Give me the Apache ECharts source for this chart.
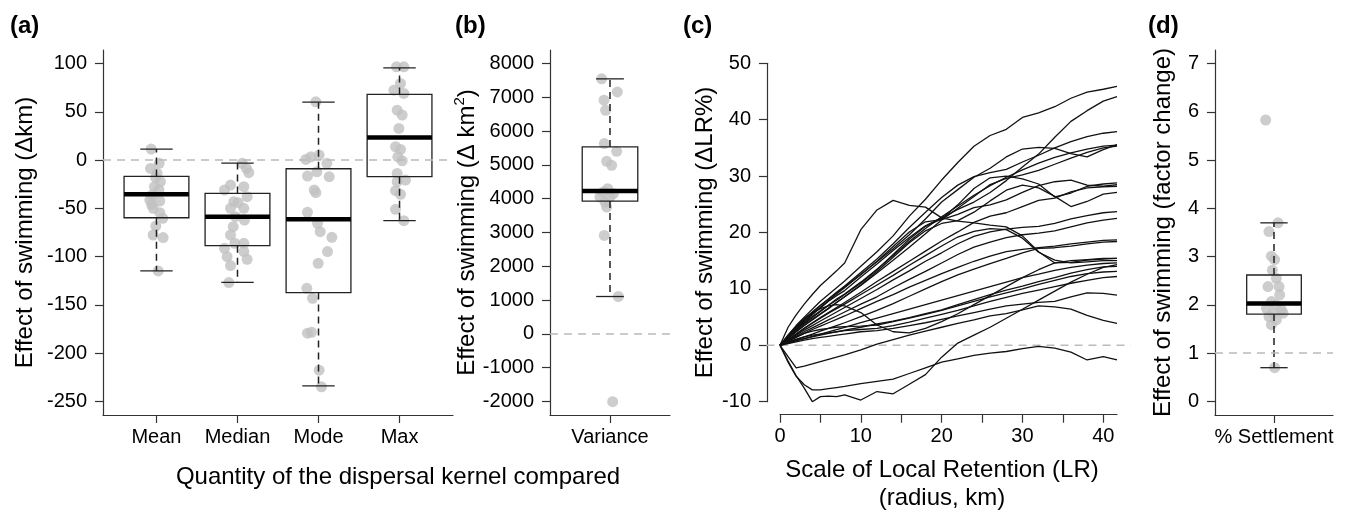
<!DOCTYPE html>
<html lang="en">
<head>
<meta charset="UTF-8">
<title>Effect of swimming</title>
<script src="https://cdn.jsdelivr.net/npm/echarts@6/dist/echarts.min.js"></script>
<style>
    html, body { margin: 0; padding: 0; background: #fff; }
    #chart { width: 1351px; height: 516px; }
</style>
</head>
<body>
<div id="chart"></div>
<script>
// ---------- (a) dispersal kernel quantities ----------
var kernelNames = ['Mean', 'Median', 'Mode', 'Max'];
// [position, lower whisker, Q1, median, Q3, upper whisker]
var kernelBoxes = [
    [1, -114.8, -59.7, -35.5, -16.9, 11.4],
    [2, -126.6, -88.6, -58.6, -34.5, -3.1],
    [3, -233.8, -137.2, -61.4, -9.0, 60.0],
    [4, -62.8, -17.2, 23.4, 68.0, 95.5]
];
// points: [jitter offset from the box centre, value]
var meanPts = [[-0.066, 11.4], [0.033, -3.4], [-0.074, -8.6], [0.008, -13.8], [-0.01, -18], [0.049, -22.4],
    [-0.025, -27.6], [0.03, -31], [-0.053, -36.2], [-0.082, -41.4], [0.041, -42.4], [-0.06, -46],
    [-0.041, -50], [0.041, -54.5], [0.078, -60.3], [-0.008, -68.3], [-0.041, -77.6], [0.082, -80.3], [0.021, -114.8]];
var medianPts = [[0.058, -3.4], [0.111, -8.6], [0.14, -13.1], [-0.086, -25.9], [-0.16, -31], [0.078, -27.6],
    [0.119, -37.9], [-0.045, -43.1], [0.008, -44.1], [-0.086, -50], [0.078, -50], [-0.025, -58.6],
    [0.086, -62.1], [-0.053, -69], [-0.086, -77.6], [-0.033, -86.2], [0.078, -86.2], [-0.16, -91.4],
    [0.078, -94.8], [-0.128, -100], [0.119, -102.8], [-0.086, -109.3], [-0.107, -126.9]];
var modePts = [[-0.033, 60.3], [-0.156, 0.7], [-0.095, 3.4], [0.008, 5.2], [0.103, -3.4], [-0.021, -12.1],
    [-0.136, -16.6], [0.132, -17.2], [-0.053, -31], [-0.033, -33.8], [-0.136, -54.1], [-0.012, -65.5],
    [0.021, -74.1], [0.165, -80], [0.111, -94.8], [-0.004, -106.9], [-0.144, -132.8], [-0.074, -143.1],
    [-0.136, -179.3], [-0.086, -178.3], [0.008, -217.6], [0.037, -234.8]];
var maxPts = [[-0.037, 96.6], [0.053, 96.6], [0.012, 79.3], [-0.07, 72.4], [0.053, 69], [-0.029, 51.7],
    [0.033, 46.6], [-0.008, 32.8], [-0.049, 13.8], [0.012, 11], [-0.021, 3.4], [0.033, -0.7],
    [-0.029, -13.8], [0.074, -20.7], [-0.029, -22.4], [-0.049, -31.7], [0.012, -35.5], [-0.049, -51], [0.053, -62.8]];
var kernelTicks = [-250, -200, -150, -100, -50, 0, 50, 100];

// ---------- (b) variance ----------
var varianceBox = [[1, 1106, 3931, 4227, 5531, 7546]];
var variancePts = [[-0.075, 7546], [0.066, 7160], [-0.054, 6914], [-0.039, 6617], [-0.051, 5630], [0.06, 5402],
    [-0.03, 5106], [0.015, 4988], [-0.021, 4296], [-0.06, 4197], [0.03, 4148], [-0.09, 4049], [0, 4049],
    [-0.045, 3901], [-0.03, 3753], [-0.051, 2914], [0.075, 1106], [0.024, -2005]];
var varianceTicks = [-2000, -1000, 0, 1000, 2000, 3000, 4000, 5000, 6000, 7000, 8000];

// ---------- (c) local retention curves ----------
var lrKm = [0, 1, 2, 3, 4, 5, 6, 7, 8, 10, 12, 14, 16, 18, 20, 22, 24, 26, 28, 30, 32, 34, 36, 38, 40, 41.7];
var lrCurves = [
    [0, 1.8, 3.5, 5.0, 6.4, 7.8, 9.0, 10.2, 11.4, 14.0, 16.6, 19.4, 22.9, 25.9, 29.3, 32.4, 35.3, 37.2, 38.3, 40.4, 41.2, 42.3, 43.8, 44.9, 45.4, 45.9],
    [0, 1.5, 3.0, 4.3, 5.6, 6.6, 7.8, 8.8, 9.7, 12.1, 14.4, 16.8, 19.1, 21.2, 22.6, 24.1, 25.4, 27.1, 29.2, 31.6, 33.9, 36.9, 39.7, 41.6, 43.3, 44.1],
    [0, 1.6, 3.2, 4.6, 5.9, 7.1, 8.2, 9.4, 10.5, 12.9, 15.3, 18.0, 20.9, 23.6, 26.2, 28.4, 29.9, 30.6, 31.2, 32.5, 33.7, 35.0, 36.1, 37.0, 37.6, 37.9],
    [0, 1.4, 2.8, 4.1, 5.4, 6.7, 7.9, 9.1, 10.2, 12.6, 14.8, 17.1, 19.6, 22.4, 25.4, 27.6, 29.8, 31.4, 33.4, 34.8, 35.1, 34.9, 34.0, 33.4, 34.7, 35.6],
    [0, 1.3, 2.6, 3.8, 4.9, 6.0, 7.1, 8.2, 9.1, 11.2, 13.5, 15.9, 18.4, 20.7, 22.8, 24.7, 26.6, 28.3, 29.8, 31.1, 32.3, 33.3, 34.1, 34.8, 35.3, 35.5],
    [0, 1.2, 2.4, 3.5, 4.6, 5.6, 6.6, 7.6, 8.6, 10.6, 12.8, 15.1, 17.4, 19.8, 22.2, 24.3, 26.4, 28.5, 29.6, 30.2, 31.0, 32.1, 33.2, 34.2, 35.0, 35.3],
    [0, 1.5, 2.8, 4.0, 5.1, 6.1, 7.1, 8.0, 9.0, 11.0, 13.4, 16.1, 18.8, 21.1, 22.4, 24.9, 27.8, 29.7, 30.0, 29.5, 28.6, 26.3, 27.0, 28.2, 28.6, 28.8],
    [0, 1.6, 3.1, 4.5, 5.8, 7.0, 8.2, 9.3, 10.4, 12.5, 14.9, 17.5, 20.1, 21.9, 22.3, 23.2, 24.4, 24.9, 25.8, 27.1, 28.3, 29.0, 29.3, 28.4, 28.2, 28.5],
    [0, 1.0, 2.0, 3.0, 4.0, 4.9, 5.8, 6.7, 7.6, 9.4, 11.3, 13.1, 14.9, 16.7, 18.5, 20.1, 21.8, 22.9, 23.5, 24.6, 25.7, 26.1, 27.2, 27.9, 28.1, 28.2],
    [0, 1.2, 2.4, 3.5, 4.5, 5.5, 6.5, 7.6, 8.6, 10.7, 13.1, 15.6, 18.2, 20.3, 21.6, 22.1, 23.6, 25.6, 27.5, 28.4, 27.9, 26.4, 24.6, 25.5, 26.8, 27.1],
    [0, 3.2, 5.4, 7.3, 9.0, 10.6, 11.9, 13.2, 14.6, 20.5, 24.0, 25.7, 24.8, 24.5, 22.6, 22.0, 21.7, 21.3, 21.0, 19.4, 16.6, 14.6, 14.7, 15.1, 15.3, 15.4],
    [0, 0.9, 1.8, 2.7, 3.5, 4.3, 5.1, 5.9, 6.7, 8.3, 9.9, 11.6, 13.2, 14.9, 16.4, 18.0, 19.3, 20.1, 20.6, 20.9, 21.1, 21.6, 22.4, 23.0, 23.5, 23.7],
    [0, 0.8, 1.6, 2.4, 3.1, 3.8, 4.5, 5.2, 5.9, 7.3, 8.6, 10.2, 11.7, 13.1, 14.6, 16.1, 17.4, 18.3, 19.1, 19.6, 19.9, 20.3, 21.0, 21.7, 22.2, 22.5],
    [0, 0.7, 1.4, 2.1, 2.8, 3.4, 4.0, 4.6, 5.2, 6.5, 7.8, 9.0, 10.3, 11.5, 12.7, 13.8, 14.9, 15.8, 16.6, 17.0, 17.3, 17.6, 18.0, 18.3, 18.6, 18.7],
    [0, 0.5, 1.0, 1.5, 2.0, 2.5, 3.0, 3.5, 4.0, 5.1, 6.2, 7.4, 8.7, 10.0, 11.3, 12.5, 13.5, 14.5, 15.4, 16.4, 17.2, 17.3, 17.6, 18.0, 18.3, 18.4],
    [0, 1.0, 2.0, 3.0, 3.9, 4.8, 5.7, 6.5, 7.3, 9.0, 10.7, 12.4, 14.2, 15.9, 17.6, 19.2, 20.2, 20.7, 20.5, 19.0, 16.5, 15.1, 14.6, 14.8, 15.0, 15.0],
    [0, 0.4, 0.8, 1.2, 1.6, 2.0, 2.4, 2.8, 3.2, 4.0, 4.8, 5.6, 6.4, 7.2, 8.0, 8.8, 9.6, 10.4, 11.2, 12.0, 12.6, 13.3, 13.8, 14.2, 14.5, 14.6],
    [0, -2.8, -5.4, -7.6, -10.0, -9.1, -9.0, -9.1, -8.8, -9.7, -8.2, -8.6, -6.9, -5.2, -2.1, 0.4, 1.8, 3.2, 4.8, 6.4, 8.0, 9.6, 11.2, 12.6, 13.8, 14.3],
    [0, 0.5, 0.9, 1.2, 1.5, 1.8, 2.1, 2.4, 2.7, 3.2, 3.8, 4.3, 4.9, 5.6, 6.3, 7.2, 8.1, 9.0, 9.8, 10.5, 11.3, 12.0, 12.8, 13.4, 13.9, 14.0],
    [0, 0.8, 1.5, 2.1, 2.5, 2.8, 3.0, 3.2, 3.3, 3.4, 3.6, 4.2, 4.8, 5.5, 6.2, 7.0, 7.8, 8.6, 9.3, 10.0, 10.8, 11.5, 12.2, 12.7, 13.0, 13.1],
    [0, 0.6, 1.1, 1.5, 1.8, 2.0, 2.2, 2.4, 2.6, 2.8, 3.0, 3.5, 4.1, 4.8, 5.5, 6.2, 7.0, 7.8, 8.5, 9.2, 9.8, 10.4, 11.0, 11.5, 12.0, 12.2],
    [0, 0.3, 0.6, 0.9, 1.2, 1.4, 1.6, 1.8, 2.0, 2.4, 2.6, 3.0, 3.5, 4.0, 4.6, 5.2, 5.8, 6.4, 7.0, 7.3, 7.6, 7.8, 8.6, 9.3, 9.2, 8.9],
    [0, -2.0, -4.0, -3.7, -3.3, -2.9, -2.5, -2.1, -1.7, -0.8, 0.2, 1.0, 1.8, 2.5, 3.2, 3.9, 4.5, 5.2, 5.6, 6.3, 7.0, 6.8, 6.4, 5.3, 4.4, 3.9],
    [0, -3.0, -5.5, -7.0, -7.9, -7.9, -7.7, -7.5, -7.3, -6.8, -6.4, -6.0, -5.0, -4.0, -3.0, -2.4, -1.8, -1.4, -1.1, -0.6, -0.2, -0.5, -1.2, -2.6, -2.0, -2.6],
    [0, 1.8, 3.4, 4.8, 5.8, 6.5, 7.0, 7.2, 7.0, 5.8, 3.6, 2.4, 2.2, 3.0, 4.2, 5.6, 7.2, 8.8, 10.4, 12.0, 13.4, 14.6, 15.0, 15.2, 15.4, 15.4]
];
var lrTickKm = [0, 5, 10, 15, 20, 25, 30, 35, 40];
var lrLabelKm = [0, 10, 20, 30, 40];

// ---------- (d) settlement ----------
var settleBox = [[1, 0.70, 1.81, 2.03, 2.62, 3.70]];
var settlePts = [[-0.076, 5.83], [0.037, 3.70], [-0.046, 3.52], [-0.024, 3.01], [0.006, 2.94], [-0.015, 2.72],
    [0.021, 2.55], [-0.055, 2.38], [0.046, 2.38], [0.052, 2.21], [-0.024, 2.07], [0.021, 2.0], [-0.07, 1.93],
    [0.067, 1.90], [-0.009, 1.83], [0.083, 1.83], [-0.046, 1.76], [0.021, 1.69], [-0.024, 1.59], [0.006, 0.70]];
var settleTicks = [0, 1, 2, 3, 4, 5, 6, 7];

var FONT = '"Liberation Sans", Arial, sans-serif';
var AXIS_COLOR = '#333';
var POINT_COLOR = '#c0c0c0';

// box drawn through the axis scales; halfW in axis units
function boxRenderer(halfW) {
    return function (params, api) {
        var x = api.value(0);
        var lo = api.coord([x, api.value(1)]);
        var q1 = api.coord([x, api.value(2)]);
        var md = api.coord([x, api.value(3)]);
        var q3 = api.coord([x, api.value(4)]);
        var hi = api.coord([x, api.value(5)]);
        var left = api.coord([x - halfW, 0])[0];
        var right = api.coord([x + halfW, 0])[0];
        var capL = api.coord([x - halfW / 2, 0])[0];
        var capR = api.coord([x + halfW / 2, 0])[0];
        var cx = lo[0];
        var dash = {stroke: '#222', lineWidth: 1.5, lineDash: [7, 5]};
        var solid = {stroke: '#222', lineWidth: 1.3};
        return {
            type: 'group',
            children: [
                {type: 'line', shape: {x1: cx, y1: q3[1], x2: cx, y2: hi[1]}, style: dash},
                {type: 'line', shape: {x1: cx, y1: q1[1], x2: cx, y2: lo[1]}, style: dash},
                {type: 'line', shape: {x1: capL, y1: hi[1], x2: capR, y2: hi[1]}, style: solid},
                {type: 'line', shape: {x1: capL, y1: lo[1], x2: capR, y2: lo[1]}, style: solid},
                {type: 'rect', shape: {x: left, y: q3[1], width: right - left, height: q1[1] - q3[1]},
                    style: {fill: 'none', stroke: '#222', lineWidth: 1.3}},
                {type: 'line', shape: {x1: left, y1: md[1], x2: right, y2: md[1]},
                    style: {stroke: '#000', lineWidth: 4.5}}
            ]
        };
    };
}

function jitter(pts, pos) {
    return pts.map(function (p) { return [pos + p[0], p[1]]; });
}

function refLine(y) {
    return {
        silent: true, symbol: 'none', animation: false,
        label: {show: false},
        lineStyle: {color: '#bbb', width: 1.5, type: [8, 6]},
        data: [{yAxis: y}]
    };
}

function plain(v) { return String(v); }

function valueAxis(grid, min, max, ticks, extra) {
    var ax = {
        type: 'value', gridIndex: grid, min: min, max: max,
        axisLine: {show: true, onZero: false, lineStyle: {color: AXIS_COLOR, width: 1.2}},
        axisTick: {show: true, length: 8, inside: false, customValues: ticks,
            lineStyle: {color: AXIS_COLOR, width: 1.2}},
        axisLabel: {customValues: ticks, color: '#000', fontSize: 20, fontFamily: FONT, margin: 16, formatter: plain},
        splitLine: {show: false}
    };
    for (var k in extra) ax[k] = extra[k];
    return ax;
}

function yName(text, gap) {
    return {
        name: text, nameLocation: 'middle', nameGap: gap, nameRotate: 90,
        nameTextStyle: {color: '#000', fontSize: 24, fontFamily: FONT,
            rich: {sup: {fontSize: 15, fontFamily: FONT, color: '#000', padding: [0, 0, 14, 0]}}}
    };
}

var chart = echarts.init(document.getElementById('chart'));

var series = [];
// (a)
[meanPts, medianPts, modePts, maxPts].forEach(function (pts, i) {
    series.push({
        type: 'scatter', xAxisIndex: 0, yAxisIndex: 0, data: jitter(pts, i + 1),
        symbolSize: 11, itemStyle: {color: POINT_COLOR}, silent: true, z: 2,
        markLine: i === 0 ? refLine(0) : undefined
    });
});
series.push({type: 'custom', xAxisIndex: 0, yAxisIndex: 0, data: kernelBoxes,
    renderItem: boxRenderer(0.4), silent: true, z: 3});
// (b)
series.push({type: 'scatter', xAxisIndex: 1, yAxisIndex: 1, data: jitter(variancePts, 1),
    symbolSize: 11, itemStyle: {color: POINT_COLOR}, silent: true, z: 2, markLine: refLine(0)});
series.push({type: 'custom', xAxisIndex: 1, yAxisIndex: 1, data: varianceBox,
    renderItem: boxRenderer(0.25), silent: true, z: 3});
// (c)
series.push({
    type: 'custom', xAxisIndex: 2, yAxisIndex: 2, data: [[-1.67, 0, 43.4]], clip: false, silent: true, z: 1,
    renderItem: function (params, api) {
        var a = api.coord([api.value(0), api.value(1)]);
        var b = api.coord([api.value(2), api.value(1)]);
        return {type: 'line', shape: {x1: a[0], y1: a[1], x2: b[0], y2: b[1]},
            style: {stroke: '#bbb', lineWidth: 1.5, lineDash: [8, 6]}};
    }
});
lrCurves.forEach(function (vals) {
    series.push({
        type: 'line', xAxisIndex: 2, yAxisIndex: 2, showSymbol: false, silent: true, clip: false, z: 2,
        lineStyle: {color: '#111', width: 1.3},
        data: vals.map(function (v, i) { return [lrKm[i], v]; })
    });
});
// (d)
series.push({type: 'scatter', xAxisIndex: 3, yAxisIndex: 3, data: jitter(settlePts, 1),
    symbolSize: 11, itemStyle: {color: POINT_COLOR}, silent: true, z: 2, markLine: refLine(1)});
series.push({type: 'custom', xAxisIndex: 3, yAxisIndex: 3, data: settleBox,
    renderItem: boxRenderer(0.25), silent: true, z: 3});

function panelLabel(txt, x) {
    return {type: 'text', x: x, y: 14, style: {text: txt, font: 'bold 24px ' + FONT, fill: '#000'}};
}

function catLabel(ticks, names) {
    return {customValues: ticks, color: '#000', fontSize: 20, fontFamily: FONT, margin: 12,
        formatter: function (v) { return names[Math.round(v) - 1]; }};
}

var option = {
    animation: false,
    backgroundColor: '#fff',
    grid: [
        {left: 103, top: 50, width: 350, height: 365},
        {left: 550, top: 50, width: 120, height: 365},
        {left: 780, top: 63.3, width: 337, height: 338.4},
        {left: 1215, top: 50, width: 118, height: 365}
    ],
    xAxis: [
        valueAxis(0, 0.34, 4.66, [1, 2, 3, 4], {axisLabel: catLabel([1, 2, 3, 4], kernelNames)}),
        valueAxis(1, 0.46, 1.54, [1], {axisLabel: catLabel([1], ['Variance'])}),
        valueAxis(2, 0, 41.7, lrTickKm, {
            offset: 13,
            axisLabel: {customValues: lrLabelKm, color: '#000', fontSize: 20, fontFamily: FONT, margin: 12, formatter: plain}
        }),
        valueAxis(3, 0.46, 1.54, [1], {axisLabel: catLabel([1], ['% Settlement'])})
    ],
    yAxis: [
        valueAxis(0, -264, 114, kernelTicks, yName('Effect of swimming (\u0394km)', 66)),
        valueAxis(1, -2400, 8400, varianceTicks, yName('Effect of swimming (\u0394 km{sup|2})', 66)),
        valueAxis(2, -10, 50, [-10, 0, 10, 20, 30, 40, 50], (function () {
            var o = yName('Effect of swimming (\u0394LR%)', 50);
            o.offset = 13;
            return o;
        })()),
        valueAxis(3, -0.28, 7.28, settleTicks, yName('Effect of swimming (factor change)', 40))
    ],
    graphic: [
        panelLabel('(a)', 10),
        panelLabel('(b)', 455),
        panelLabel('(c)', 683),
        panelLabel('(d)', 1148),
        {type: 'text', x: 398, y: 477, style: {text: 'Quantity of the dispersal kernel compared',
            font: '24px ' + FONT, fill: '#000', align: 'center', verticalAlign: 'middle'}},
        {type: 'text', x: 942, y: 470, style: {text: 'Scale of Local Retention (LR)',
            font: '24px ' + FONT, fill: '#000', align: 'center', verticalAlign: 'middle'}},
        {type: 'text', x: 942, y: 498, style: {text: '(radius, km)',
            font: '24px ' + FONT, fill: '#000', align: 'center', verticalAlign: 'middle'}}
    ],
    series: series
};
chart.setOption(option);
</script>
</body>
</html>
